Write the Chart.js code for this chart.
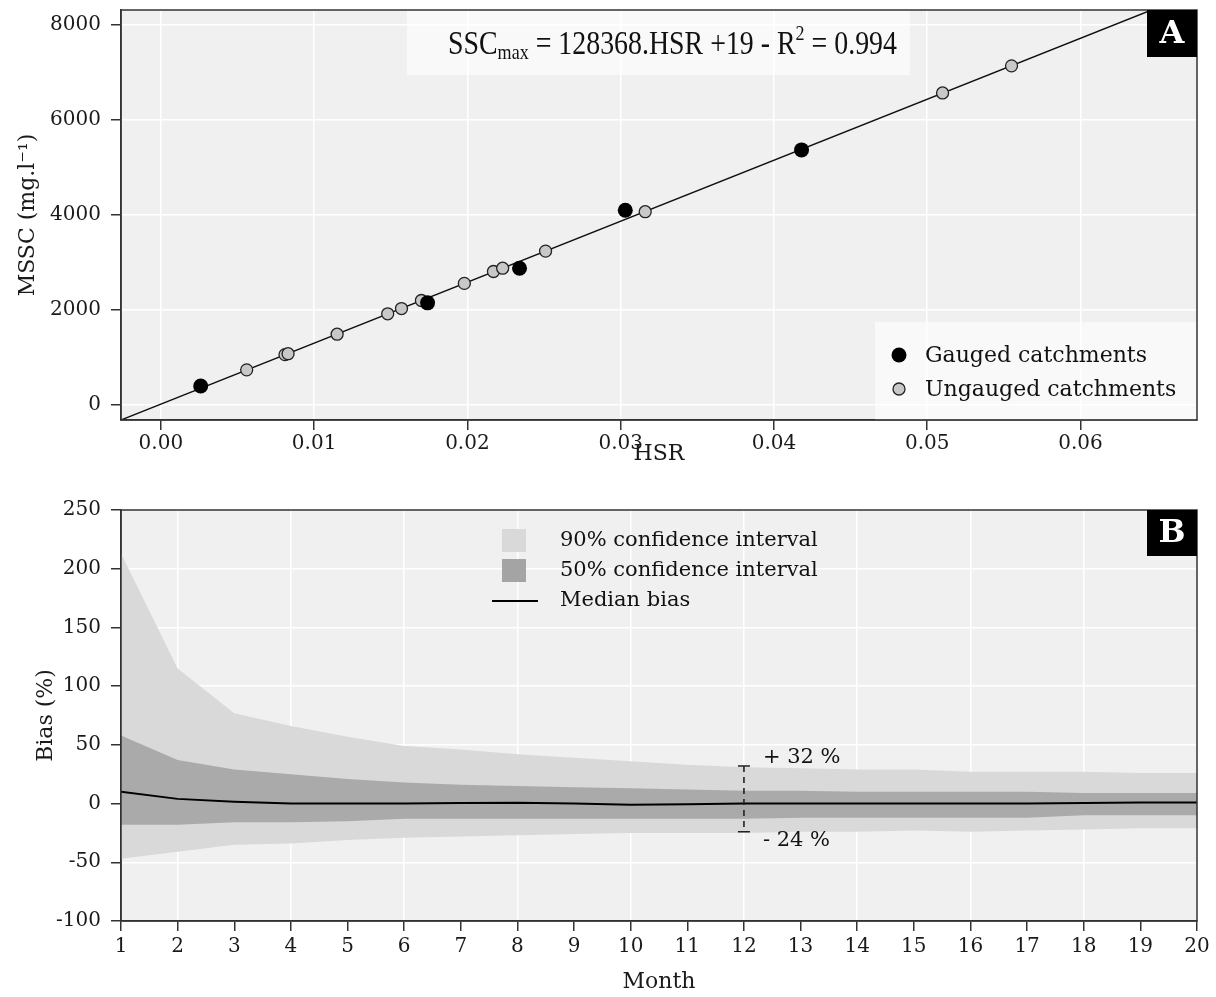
<!DOCTYPE html>
<html>
<head>
<meta charset="utf-8">
<script src="https://cdn.jsdelivr.net/npm/chart.js@4.4.0/dist/chart.umd.min.js"></script>
<style>
  html, body { margin: 0; padding: 0; background: #fff; }
  #wrap { position: relative; width: 1216px; height: 997px; }
  canvas { position: absolute; left: 0; }
</style>
</head>
<body>
<div id="wrap">
  <canvas id="chartA" width="1216" height="485" style="top:0"></canvas>
  <canvas id="chartB" width="1216" height="512" style="top:485px"></canvas>
</div>
<script>
// panel A : MSSC against HSR
const gaugedHSR = [0.0026, 0.0174, 0.0234, 0.0303, 0.0418]
const gaugedMSSC = [400, 2150, 2880, 4100, 5370]
const ungaugedHSR = [0.0056, 0.0081, 0.0083, 0.0115, 0.0148, 0.0157, 0.0170, 0.0198, 0.0217, 0.0223, 0.0251, 0.0316, 0.0510, 0.0555]
const ungaugedMSSC = [740, 1060, 1080, 1490, 1920, 2030, 2200, 2560, 2810, 2880, 3240, 4070, 6570, 7140]
const fitSlope = 128368
const fitIntercept = 19
const fitRange = [-0.004, 0.07]
const hsrTicks = [0, 0.01, 0.02, 0.03, 0.04, 0.05, 0.06]
const msscTicks = [0, 2000, 4000, 6000, 8000]

// panel B : bias by month
const months = [1, 2, 3, 4, 5, 6, 7, 8, 9, 10, 11, 12, 13, 14, 15, 16, 17, 18, 19, 20]
const upper90 = [213, 115, 77, 66, 57, 49, 46, 42, 39, 36, 33, 31, 30, 29, 29, 27, 27, 27, 26, 26]
const lower90 = [-47, -41, -35, -34, -31, -29, -28, -27, -26, -25, -25, -25, -24, -24, -23, -24, -23, -22, -21, -21]
const upper50 = [58, 37, 29, 25, 21, 18, 16, 15, 14, 13, 12, 11, 11, 10, 10, 10, 10, 9, 9, 9]
const lower50 = [-18, -18, -16, -16, -15, -13, -13, -13, -13, -13, -13, -13, -12, -12, -12, -12, -12, -10, -10, -10]
const medianBias = [10, 4, 1.5, 0, 0, 0, 0.5, 0.8, 0, -1, -0.5, 0, 0, 0, 0, 0, 0, 0.5, 1, 1]
const biasTicks = [-100, -50, 0, 50, 100, 150, 200, 250]
const spreadMonth = 12
const spreadHigh = 32
const spreadLow = -24

Chart.defaults.font.family = "'DejaVu Serif', serif"
Chart.defaults.color = '#1a1a1a'

const serif = "'DejaVu Serif', serif"
const plotBg = '#f0f0f0'

function fillPlot(chart) {
  const a = chart.chartArea
  const ctx = chart.ctx
  ctx.save()
  ctx.fillStyle = plotBg
  ctx.fillRect(a.left, a.top, a.right - a.left, a.bottom - a.top)
  ctx.restore()
}

function frame(chart) {
  const a = chart.chartArea
  const ctx = chart.ctx
  ctx.save()
  ctx.strokeStyle = '#333'
  ctx.lineWidth = 1.5
  ctx.strokeRect(a.left, a.top, a.right - a.left, a.bottom - a.top)
  ctx.restore()
}

function panelTag(chart, letter, h) {
  const a = chart.chartArea
  const ctx = chart.ctx
  ctx.save()
  ctx.fillStyle = '#000'
  ctx.fillRect(a.right - 50, a.top, 50, h)
  ctx.fillStyle = '#fff'
  ctx.font = 'bold 32px ' + serif
  ctx.textAlign = 'center'
  ctx.textBaseline = 'middle'
  ctx.fillText(letter, a.right - 25, a.top + h / 2 + 1)
  ctx.restore()
}

const panelAPlugin = {
  id: 'panelA',
  beforeDraw(chart) { fillPlot(chart) },
  beforeDatasetsDraw(chart) {
    const a = chart.chartArea
    const ctx = chart.ctx
    ctx.save()
    // equation box
    ctx.fillStyle = 'rgba(255,255,255,0.6)'
    ctx.fillRect(407, a.top, 503, 65)
    // legend box
    ctx.fillRect(a.right - 322, a.bottom - 98, 322, 98)

    const big = "34px 'Liberation Serif', serif"
    const small = "22px 'Liberation Serif', serif"
    const parts = [
      { t: 'SSC', f: big, dy: 0 },
      { t: 'max', f: small, dy: 8 },
      { t: ' = ' + fitSlope + '.HSR +' + fitIntercept + ' - R', f: big, dy: 0 },
      { t: '2', f: small, dy: -11 },
      { t: ' = 0.994', f: big, dy: 0 }
    ]
    let w = 0
    parts.forEach(p => { ctx.font = p.f; w += ctx.measureText(p.t).width })
    const sx = 449 / w
    ctx.translate(448, a.top + 35)
    ctx.scale(sx, 1)
    ctx.fillStyle = '#111'
    ctx.textBaseline = 'middle'
    let x = 0
    parts.forEach(p => {
      ctx.font = p.f
      ctx.fillText(p.t, x, p.dy)
      x += ctx.measureText(p.t).width
    })
    ctx.restore()
  },
  afterDraw(chart) {
    const a = chart.chartArea
    const ctx = chart.ctx
    frame(chart)
    // legend items
    ctx.save()
    const lx = a.right - 298
    const ly = a.bottom - 65
    ctx.fillStyle = '#000'
    ctx.beginPath(); ctx.arc(lx, ly, 7.5, 0, Math.PI * 2); ctx.fill()
    ctx.fillStyle = '#c8c8c8'
    ctx.strokeStyle = '#222'
    ctx.lineWidth = 1.3
    ctx.beginPath(); ctx.arc(lx, ly + 34, 6, 0, Math.PI * 2); ctx.fill(); ctx.stroke()
    ctx.fillStyle = '#111'
    ctx.font = '22px ' + serif
    ctx.textBaseline = 'middle'
    ctx.fillText('Gauged catchments', lx + 26, ly + 1)
    ctx.fillText('Ungauged catchments', lx + 26, ly + 35)
    ctx.restore()
    panelTag(chart, 'A', 47)
  }
}

const panelBPlugin = {
  id: 'panelB',
  beforeDraw(chart) { fillPlot(chart) },
  afterDraw(chart) {
    const a = chart.chartArea
    const ctx = chart.ctx
    const xs = chart.scales.x
    const ys = chart.scales.y
    ctx.save()
    // spread marker
    const px = xs.getPixelForValue(spreadMonth)
    const pHigh = ys.getPixelForValue(spreadHigh)
    const pLow = ys.getPixelForValue(spreadLow)
    ctx.strokeStyle = '#222'
    ctx.lineWidth = 1.6
    ctx.setLineDash([6, 5])
    ctx.beginPath(); ctx.moveTo(px, pHigh); ctx.lineTo(px, pLow); ctx.stroke()
    ctx.setLineDash([])
    ctx.beginPath()
    ctx.moveTo(px - 6, pHigh); ctx.lineTo(px + 6, pHigh)
    ctx.moveTo(px - 6, pLow); ctx.lineTo(px + 6, pLow)
    ctx.stroke()
    ctx.fillStyle = '#111'
    ctx.font = '21px ' + serif
    ctx.textBaseline = 'middle'
    ctx.fillText('+ ' + spreadHigh + ' %', px + 19, pHigh - 8)
    ctx.fillText('- ' + Math.abs(spreadLow) + ' %', px + 19, pLow + 9)

    // legend
    const lx = a.left + 381
    const ly = a.top + 19
    ctx.fillStyle = '#d9d9d9'
    ctx.fillRect(lx, ly, 24, 23)
    ctx.fillStyle = '#a4a4a4'
    ctx.fillRect(lx, ly + 30, 24, 23)
    ctx.strokeStyle = '#000'
    ctx.lineWidth = 2
    ctx.beginPath(); ctx.moveTo(lx - 10, ly + 72); ctx.lineTo(lx + 36, ly + 72); ctx.stroke()
    ctx.fillStyle = '#111'
    ctx.font = '21px ' + serif
    ctx.fillText('90% confidence interval', lx + 58, ly + 12)
    ctx.fillText('50% confidence interval', lx + 58, ly + 42)
    ctx.fillText('Median bias', lx + 58, ly + 72)
    ctx.restore()
    frame(chart)
    panelTag(chart, 'B', 46)
  }
}

const tickFont = { size: 20 }
const titleFont = { size: 22 }
const gridOpts = { color: '#fff', lineWidth: 1.5, tickLength: 10, tickColor: '#333', tickWidth: 1.5 }
const borderOpts = { color: '#333', width: 1.5 }

function fixWidth(w) {
  return s => { s.width = w; s.paddingTop = 0; s.paddingBottom = 0 }
}
function fixHeight(h) {
  return s => { s.height = h; s.paddingLeft = 0; s.paddingRight = 0 }
}

// ---- panel A
const toPts = (xs, ys) => xs.map((v, i) => ({ x: v, y: ys[i] }))
const fitPts = fitRange.map(v => ({ x: v, y: fitSlope * v + fitIntercept }))

new Chart(document.getElementById('chartA').getContext('2d'), {
  type: 'scatter',
  data: {
    datasets: [
      {
        label: 'Gauged catchments',
        data: toPts(gaugedHSR, gaugedMSSC),
        backgroundColor: '#000',
        borderColor: '#000',
        borderWidth: 0,
        pointRadius: 7.5
      },
      {
        label: 'Ungauged catchments',
        data: toPts(ungaugedHSR, ungaugedMSSC),
        backgroundColor: '#c8c8c8',
        borderColor: '#222',
        borderWidth: 1.3,
        pointRadius: 6
      },
      {
        label: 'fit',
        data: fitPts,
        showLine: true,
        borderColor: '#111',
        borderWidth: 1.5,
        pointRadius: 0
      }
    ]
  },
  options: {
    responsive: false,
    animation: false,
    layout: { padding: { top: 10, right: 19, left: 0, bottom: 0 } },
    plugins: { legend: { display: false }, tooltip: { enabled: false } },
    scales: {
      x: {
        type: 'linear',
        min: -0.0026,
        max: 0.0676,
        afterFit: fixHeight(65),
        afterBuildTicks(s) { s.ticks = hsrTicks.map(v => ({ value: v })) },
        ticks: { font: tickFont, padding: 2, callback: v => v.toFixed(2) },
        grid: gridOpts,
        border: borderOpts,
        title: { display: true, text: 'HSR', font: titleFont, padding: { top: 0, bottom: 18 } }
      },
      y: {
        min: -316,
        max: 8316,
        afterFit: fixWidth(121),
        afterBuildTicks(s) { s.ticks = msscTicks.map(v => ({ value: v })) },
        ticks: { font: tickFont, padding: 10, callback: v => String(v) },
        grid: gridOpts,
        border: borderOpts,
        title: { display: true, text: 'MSSC (mg.l⁻¹)', font: titleFont, padding: { top: 15, bottom: 0 } }
      }
    }
  },
  plugins: [panelAPlugin]
})

// ---- panel B
const monthPts = vals => months.map((m, i) => ({ x: m, y: vals[i] }))
const band = { borderWidth: 0, borderColor: 'transparent', pointRadius: 0, tension: 0 }

new Chart(document.getElementById('chartB').getContext('2d'), {
  type: 'line',
  data: {
    datasets: [
      { label: 'Median bias', data: monthPts(medianBias), borderColor: '#000', borderWidth: 2, pointRadius: 0, fill: false },
      Object.assign({ label: '50% upper', data: monthPts(upper50), backgroundColor: '#aaaaaa', fill: '+1' }, band),
      Object.assign({ label: '50% lower', data: monthPts(lower50), fill: false }, band),
      Object.assign({ label: '90% upper', data: monthPts(upper90), backgroundColor: '#d9d9d9', fill: '+1' }, band),
      Object.assign({ label: '90% lower', data: monthPts(lower90), fill: false }, band)
    ]
  },
  options: {
    responsive: false,
    animation: false,
    layout: { padding: { top: 25, right: 19, left: 0, bottom: 0 } },
    plugins: { legend: { display: false }, tooltip: { enabled: false } },
    scales: {
      x: {
        type: 'linear',
        min: 1,
        max: 20,
        afterFit: fixHeight(76),
        afterBuildTicks(s) { s.ticks = months.map(v => ({ value: v })) },
        ticks: { font: tickFont, padding: 4, autoSkip: false, maxRotation: 0 },
        grid: Object.assign({}, gridOpts, {
          color: c => (c.tick && c.tick.value % 2 === 0 ? '#fff' : 'rgba(0,0,0,0)')
        }),
        border: borderOpts,
        title: { display: true, text: 'Month', font: titleFont, padding: { top: 0, bottom: 2 } }
      },
      y: {
        min: -100,
        max: 250,
        afterFit: fixWidth(121),
        afterBuildTicks(s) { s.ticks = biasTicks.map(v => ({ value: v })) },
        ticks: { font: tickFont, padding: 10 },
        grid: gridOpts,
        border: borderOpts,
        title: { display: true, text: 'Bias (%)', font: titleFont, padding: { top: 33, bottom: 0 } }
      }
    }
  },
  plugins: [panelBPlugin]
})
</script>
</body>
</html>
